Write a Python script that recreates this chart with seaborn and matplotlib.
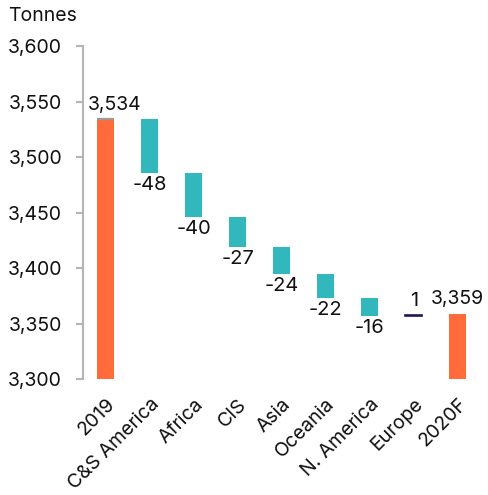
import matplotlib
matplotlib.use("Agg")
import matplotlib.pyplot as plt
import seaborn as sns
import numpy as np
import pandas as pd

categories = ["2019", "C&S America", "Africa", "CIS", "Asia", "Oceania",
              "N. America", "Europe", "2020F"]
start_value = 3534
changes = [-48, -40, -27, -24, -22, -16, 1]
end_value = 3359
y_ticks = [3300, 3350, 3400, 3450, 3500, 3550, 3600]

ORANGE = "#FF6B3A"
TEAL = "#32B8BC"
NAVY = "#1E1850"
GREY = "#B5B5B5"
INK = "#111111"

# Floating bar geometry for the waterfall
levels = np.concatenate([[start_value], start_value + np.cumsum(changes)])
bottoms = [y_ticks[0]]
heights = [start_value - y_ticks[0]]
for i, d in enumerate(changes):
    lo = min(levels[i], levels[i + 1])
    bottoms.append(lo)
    heights.append(abs(d))
bottoms.append(y_ticks[0])
heights.append(end_value - y_ticks[0])

colors = [ORANGE] + [TEAL if d < 0 else NAVY for d in changes] + [ORANGE]
df = pd.DataFrame({"cat": categories, "h": heights})

sns.set_style("white")
plt.rcParams["font.family"] = ["Inter", "DejaVu Sans"]

fig = plt.figure(figsize=(4.88, 4.95), dpi=100)
ax = fig.add_axes([0.170, 0.234, 0.813, 0.673])

sns.barplot(data=df, x="cat", y="h", order=categories, bottom=bottoms,
            color=ORANGE, width=0.39, ax=ax, linewidth=0, saturation=1)
for patch, c, d in zip(ax.patches, colors, [None] + changes + [None]):
    patch.set_facecolor(c)
    if d is not None and d > 0:
        patch.set_edgecolor(NAVY)
        patch.set_linewidth(1.2)

# grey cap on the starting bar
w = 0.39
ax.hlines(start_value, 0 - w / 2, 0 + w / 2, color="#9a9a9a", lw=1.6, zorder=3)

fs = 14
# value labels
ax.text(0 + 0.2, start_value + 5, f"{start_value:,}", ha="center", va="bottom",
        fontsize=fs, color=INK)
ax.text(len(categories) - 1, end_value + 5, f"{end_value:,}", ha="center",
        va="bottom", fontsize=fs, color=INK)
for i, d in enumerate(changes):
    x = i + 1
    if d < 0:
        ax.text(x, levels[i + 1] - 3, f"{d}", ha="center", va="top",
                fontsize=fs + 0.5, color=INK)
    else:
        ax.text(x, levels[i + 1] + 4, f"{d}", ha="center", va="bottom",
                fontsize=fs + 0.5, color=INK)

ax.set_ylim(3300, 3600)
ax.set_xlim(-0.52, 8.5)
ax.set_yticks(y_ticks)
ax.set_yticklabels([f"{v:,}" for v in y_ticks], fontsize=fs)
ax.set_xticks(range(len(categories)))
ax.set_xticklabels(categories, fontsize=fs, rotation=45, ha="right",
                   rotation_mode="anchor")
ax.set_xlabel("")
ax.set_ylabel("")

for s in ["top", "right", "bottom"]:
    ax.spines[s].set_visible(False)
ax.spines["left"].set_color(GREY)
ax.spines["left"].set_linewidth(1.5)
ax.tick_params(axis="y", which="both", left=True, length=5, width=1.5,
               color=GREY, pad=10, labelcolor=INK)
ax.tick_params(axis="x", which="both", bottom=False, pad=8, labelcolor=INK)
ax.grid(False)

fig.text(0.016, 0.968, "Tonnes", fontsize=fs, ha="left", va="center", color=INK)

fig.savefig("out.png", dpi=100)
